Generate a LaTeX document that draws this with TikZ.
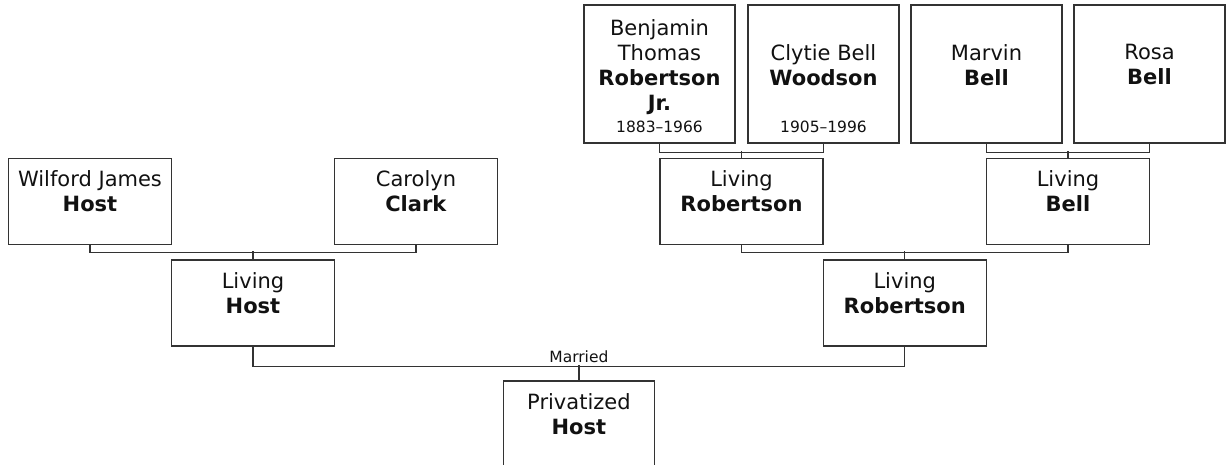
\documentclass[tikz,border=0pt]{standalone}
\usepackage{fontspec}
\setmainfont{DejaVu Sans}
\usetikzlibrary{positioning}
\definecolor{boxgray}{RGB}{51, 51, 51}
\definecolor{inkblack}{RGB}{17, 17, 17}

\begin{document}
\begin{tikzpicture}[x=1pt, y=-1pt,
  person/.style={draw=boxgray, line width=1.4pt, minimum width=163pt, minimum height=86pt, inner sep=0pt},
  elder/.style={person, minimum width=151pt, minimum height=138pt},
  who/.style={align=center, inner sep=0pt, text=inkblack, font=\fontsize{21}{25}\selectfont},
  years/.style={inner sep=0pt, text=inkblack, font=\fontsize{15.5}{18}\selectfont},
  link/.style={draw=boxgray, line width=1.4pt}]

  \clip (0,0) rectangle (1227,464);

  % Great-grandparents (top row)
  \node[elder] (bjr) at (659.5,74) {};
  \node[who, below=15pt of bjr.north] (bjr-n) {Benjamin\\Thomas\\\textbf{Robertson}\\\textbf{Jr.}};
  \node[years, above=11pt of bjr.south] (bjr-y) {1883–1966};

  \node[elder] (cwood) at (823.5,74) {};
  \node[who, below=40pt of cwood.north] (cwood-n) {Clytie Bell\\\textbf{Woodson}};
  \node[years, above=11pt of cwood.south] (cwood-y) {1905–1996};

  \node[elder] (mbell) at (986.5,74) {};
  \node[who, below=40pt of mbell.north] (mbell-n) {Marvin\\\textbf{Bell}};

  \node[elder] (rbell) at (1149.5,74) {};
  \node[who, below=40pt of rbell.north] (rbell-n) {Rosa\\\textbf{Bell}};

  % Grandparents
  \node[person] (wjhost) at (90,201.3) {};
  \node[who, below=13pt of wjhost.north] (wjhost-n) {Wilford James\\\textbf{Host}};

  \node[person] (cclark) at (416,201.3) {};
  \node[who, below=13pt of cclark.north] (cclark-n) {Carolyn\\\textbf{Clark}};

  \node[person] (lrob) at (741.5,201.3) {};
  \node[who, below=13pt of lrob.north] (lrob-n) {Living\\\textbf{Robertson}};

  \node[person] (lbell) at (1068,201.3) {};
  \node[who, below=13pt of lbell.north] (lbell-n) {Living\\\textbf{Bell}};

  % Parents
  \node[person] (lhost) at (253,303) {};
  \node[who, below=13pt of lhost.north] (lhost-n) {Living\\\textbf{Host}};

  \node[person] (rrob) at (904.75,303) {};
  \node[who, below=13pt of rrob.north] (rrob-n) {Living\\\textbf{Robertson}};

  % Child
  \node[person, minimum width=151pt] (priv) at (578.9,424) {};
  \node[who, below=13pt of priv.north] (priv-n) {Privatized\\\textbf{Host}};

  % Couple links
  \draw[link] (bjr.south) -- ++(0,8.7) -| (cwood.south);
  \draw[link] (lrob.north) -- ++(0,-6.6);
  \draw[link] (mbell.south) -- ++(0,8.7) -| (rbell.south);
  \draw[link] (lbell.north) -- ++(0,-6.6);
  \draw[link] (wjhost.south) -- ++(0,7.4) -| (cclark.south);
  \draw[link] (lhost.north) -- ++(0,-8.3);
  \draw[link] (lrob.south) -- ++(0,7.4) -| (lbell.south);
  \draw[link] (rrob.north) -- ++(0,-8.3);
  \draw[link] (lhost.south) -- ++(0,20) -| (rrob.south);
  \draw[link] (priv.north) -- ++(0,-15);
  \node[years, anchor=base] (married) at (578.9,362.5) {Married};
\end{tikzpicture}
\end{document}
